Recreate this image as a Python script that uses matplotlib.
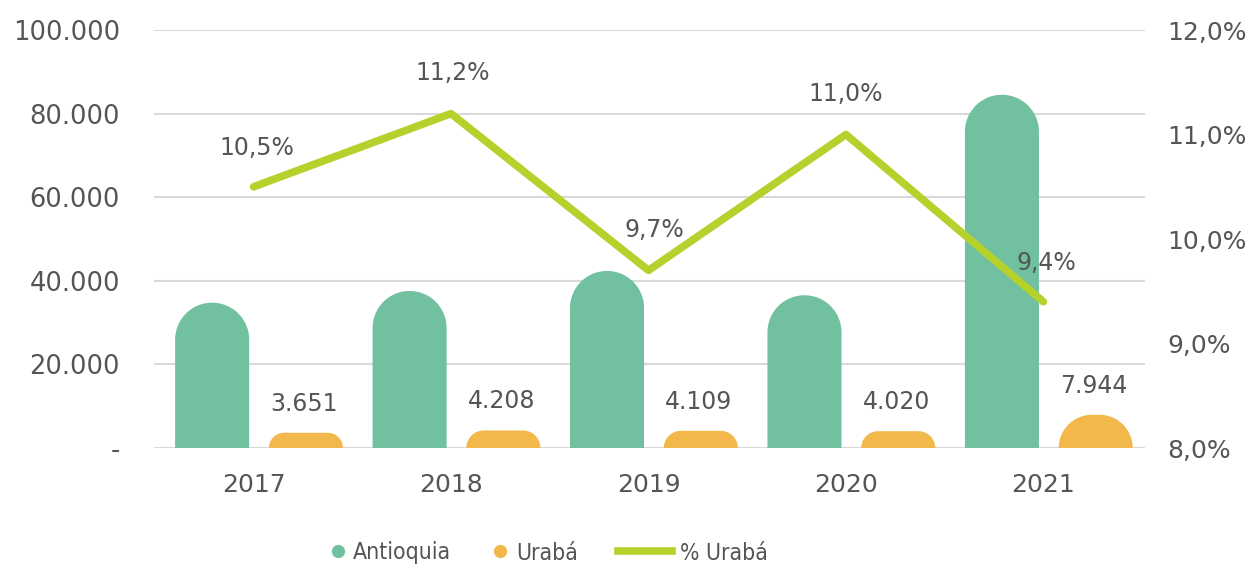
import numpy as np
import matplotlib.pyplot as plt
from matplotlib.patches import Polygon
from matplotlib.lines import Line2D

years = ['2017', '2018', '2019', '2020', '2021']
antioquia = [34771, 37571, 42361, 36545, 84511]
uraba = [3651, 4208, 4109, 4020, 7944]
pct_uraba = [10.5, 11.2, 9.7, 11.0, 9.4]

GREEN = '#71c0a0'
ORANGE = '#f2b84b'
LIME = '#b5d12c'
TEXT = '#555555'

plt.rcParams['font.family'] = ['DejaVu Sans']

fig = plt.figure(figsize=(12.56, 5.74), dpi=100)
ax = fig.add_axes([0.123, 0.2195, 0.789, 0.7282])
ax.set_xlim(-0.502, 4.517)
ax.set_ylim(0, 100000)
ax2 = ax.twinx()
ax2.set_ylim(8.0, 12.0)


def rounded_bar(axis, xc, w, h, color):
    # bar with rounded top, corner radius = min(half width, height) in pixels
    t = axis.transData
    p0 = t.transform((0, 0))
    px_x = t.transform((1, 0))[0] - p0[0]
    px_y = t.transform((0, 1))[1] - p0[1]
    r_px = min(w * px_x / 2, h * px_y)
    rx, ry = r_px / px_x, r_px / px_y
    x0, x1 = xc - w / 2, xc + w / 2
    a1 = np.linspace(np.pi, np.pi / 2, 30)
    a2 = np.linspace(np.pi / 2, 0, 30)
    pts = [(x0, 0)]
    pts += list(zip(x0 + rx + rx * np.cos(a1), h - ry + ry * np.sin(a1)))
    pts += list(zip(x1 - rx + rx * np.cos(a2), h - ry + ry * np.sin(a2)))
    pts += [(x1, 0)]
    axis.add_patch(Polygon(pts, closed=True, facecolor=color, edgecolor='none', zorder=2))


x = np.arange(len(years))
bw = 0.375
for i in range(len(years)):
    rounded_bar(ax, x[i] - 0.21, bw, antioquia[i], GREEN)
    rounded_bar(ax, x[i] + 0.265, bw, uraba[i], ORANGE)
    ax.annotate(f'{uraba[i]:,}'.replace(',', '.'), (x[i] + 0.255, uraba[i]),
                xytext=(0, 21), textcoords='offset points', ha='center', va='center',
                fontsize=17, color=TEXT)

ax.set_yticks(range(0, 100001, 20000))
ax.set_yticklabels(['-'] + [f'{v:,}'.replace(',', '.') for v in range(20000, 100001, 20000)])
ax.set_xticks(x)
ax.set_xticklabels(years)
ax.grid(axis='y', color='#d9d9d9', linewidth=1.5)
ax.set_axisbelow(True)
ax.tick_params(axis='y', length=0, pad=25, labelsize=18.5, labelcolor=TEXT)
ax.tick_params(axis='x', length=0, pad=18, labelsize=18, labelcolor=TEXT)
for s in ax.spines.values():
    s.set_visible(False)

ax2.plot(x, pct_uraba, color=LIME, linewidth=5.5, solid_capstyle='round', zorder=3)
offs = [(2, 28), (1, 29), (4, 29), (0, 29), (2, 28)]
for i in range(len(years)):
    ax2.annotate(f'{pct_uraba[i]:.1f}%'.replace('.', ','), (x[i], pct_uraba[i]),
                 xytext=offs[i], textcoords='offset points', ha='center', va='center',
                 fontsize=17, color=TEXT)
ax2.set_yticks([8, 9, 10, 11, 12])
ax2.set_yticklabels([f'{v:.1f}%'.replace('.', ',') for v in [8, 9, 10, 11, 12]])
ax2.tick_params(axis='y', length=0, pad=16, labelsize=18, labelcolor=TEXT)
for s in ax2.spines.values():
    s.set_visible(False)

# legend, one entry at a time to control spacing
leg_font = {'family': ['DejaVu Sans Condensed', 'DejaVu Sans'], 'stretch': 'condensed', 'size': 16.5}
entries = [
    (Line2D([], [], marker='o', linestyle='none', markersize=8.5, color=GREEN), 'Antioquia', 332, 0.5, 0.4),
    (Line2D([], [], marker='o', linestyle='none', markersize=8.5, color=ORANGE), 'Urabá', 494, 0.5, 0.45),
    (Line2D([], [], color=LIME, linewidth=5.5), '% Urabá', 618, 2.35, 0.35),
]
for h, lab, xpx, hl, tp in entries:
    fig.legend([h], [lab], loc='center left', bbox_to_anchor=(xpx / 1256, 1 - 553 / 574),
               frameon=False, prop=leg_font, labelcolor=TEXT, handlelength=hl,
               handletextpad=tp, borderpad=0, borderaxespad=0)

fig.savefig('out.png', dpi=100)
